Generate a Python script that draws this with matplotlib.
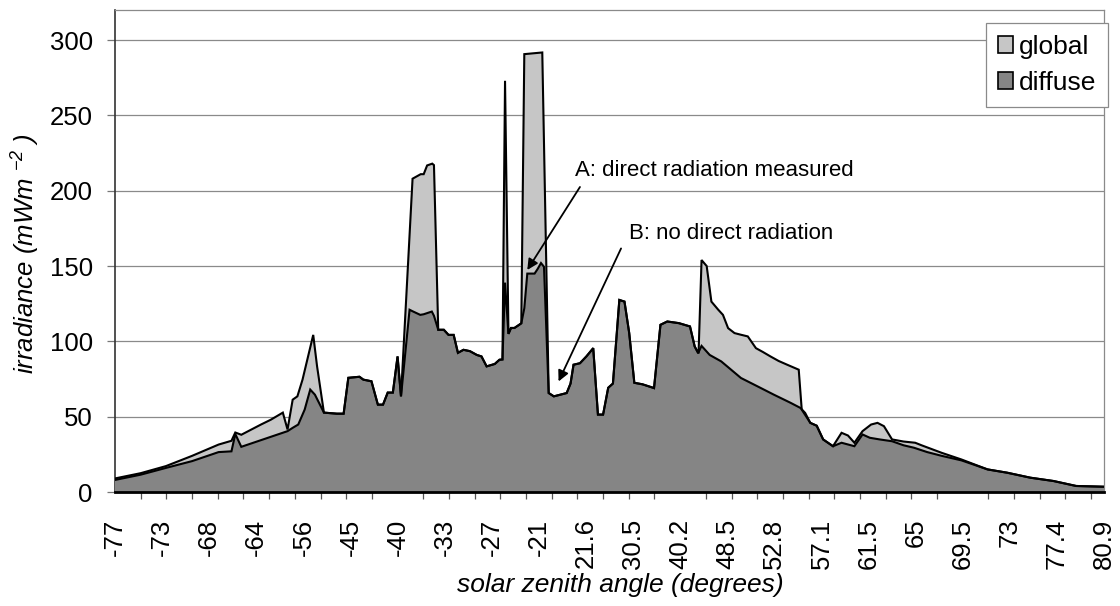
import matplotlib
matplotlib.use("Agg")
import matplotlib.pyplot as plt
from matplotlib.patches import Patch
from matplotlib.ticker import FixedLocator, MultipleLocator

plt.rcParams['font.family'] = ['Liberation Sans', 'DejaVu Sans']
plt.rcParams['mathtext.fontset'] = 'custom'
plt.rcParams['mathtext.rm'] = 'Liberation Sans:italic'
plt.rcParams['mathtext.it'] = 'Liberation Sans:italic'

# ---- data (category index positions along the measurement sequence, irradiance values) ----
tick_labels = ['-77', '-73', '-68', '-64', '-56', '-45', '-40', '-33', '-27', '-21',
               '21.6', '30.5', '40.2', '48.5', '52.8', '57.1', '61.5', '65', '69.5',
               '73', '77.4', '80.9']
label_step = 11
minor_step = 6

global_idx = [0, 6, 11.9, 18.0, 24.2, 27.2, 28.1, 29.5, 34.1, 36.4, 39.2, 40.3, 41.5, 42.6,
              43.8, 46.3, 47.2, 48.8, 51.8, 53.4, 54.5, 57.1, 58.0, 59.9, 61.4, 62.6, 63.7,
              64.9, 66.0, 66.8, 69.5, 71.4, 72.1, 72.9, 74.1, 74.5, 75.5, 76.8, 77.9, 79.1,
              80.1, 81.4, 82.9, 84.5, 85.6, 86.8, 88.7, 89.8, 90.5, 91.1, 91.9, 92.5, 93.3,
              94.4, 94.9, 95.6, 99.8, 101.3, 102.5, 105.5, 106.4, 107.1, 108.6, 110.1,
              111.7, 112.8, 114.0, 115.2, 116.3, 117.8, 119.0, 120.1, 121.3, 123.2, 125.9,
              127.4, 129.0, 131.7, 134.3, 135.4, 136.3, 137.0, 138.2, 139.3, 140.9, 142.0,
              143.2, 144.7, 146.2, 147.8, 149.7, 151.3, 153.1, 155.0, 157.0, 159.7, 160.4,
              162.4, 163.9, 165.4, 167.7, 169.7, 171.2, 172.7, 174.6, 176.6, 178.1, 179.6,
              181.5, 184.2, 186.9, 188.4, 193.1, 197.7, 203.8, 208.4, 213.8, 219.2, 224.5,
              231.0]
global_val = [9, 12.5, 17.2, 24.0, 31.5, 34.0, 39.5, 38.0, 44.8, 48.0, 52.7, 41.5, 61.3, 63.5,
              74.6, 104.3, 83.4, 52.7, 52.0, 52.0, 75.8, 76.5, 74.6, 73.5, 58.0, 58.0, 66.0,
              66.0, 90.0, 63.5, 208.0, 211.0, 211.0, 216.8, 218.0, 217.0, 107.7, 107.7, 104.3,
              104.3, 92.4, 94.4, 93.5, 91.0, 90.0, 83.4, 85.0, 87.8, 88.0, 273.0, 105.0, 108.9,
              108.9, 111.0, 112.0, 290.7, 291.8, 65.7, 63.5, 65.7, 72.0, 84.5, 85.5, 90.0,
              95.5, 51.4, 51.4, 69.2, 72.0, 127.5, 126.4, 105.6, 72.5, 71.5, 69.0,
              111.0, 113.2, 112.1, 109.9, 96.6, 92.0, 154.0, 150.0, 126.4, 121.0, 117.6,
              108.8, 105.5, 104.4, 103.3, 95.5, 93.0, 90.0, 87.0, 84.5, 81.2, 54.7,
              45.9, 44.0, 34.9, 30.4, 39.3, 37.5, 32.7, 40.4, 44.8, 45.9, 43.7,
              34.9, 33.5, 32.7, 31.0, 26.0, 21.6, 15.0, 12.8, 9.5, 7.3, 4.0,
              3.5]

diffuse_idx = [0, 6, 11.9, 18.0, 24.2, 27.2, 28.1, 29.5, 40.3, 41.5, 42.8, 44.3, 45.6, 46.7,
               48.8, 51.8, 53.4, 54.5, 57.1, 58.0, 59.9, 61.4, 62.6, 63.7, 64.9, 66.0, 66.8,
               68.8, 69.5, 71.3, 72.1, 74.0, 74.5, 75.5, 76.8, 77.9, 79.1, 80.1, 81.4, 82.9,
               84.5, 85.6, 86.8, 88.7, 89.8, 90.5, 91.1, 91.9, 92.5, 93.3, 94.4, 94.9, 95.6,
               96.3, 98.0, 98.7, 99.5, 100.2, 101.3, 102.5, 105.5, 106.4, 107.1, 108.6,
               110.1, 111.7, 112.8, 114.0, 115.2, 116.3, 117.8, 119.0, 120.1, 121.3, 123.2,
               125.9, 127.4, 129.0, 131.7, 134.3, 135.4, 136.2, 137.0, 138.9, 141.6, 143.9,
               146.2, 150.1, 153.9, 157.8, 160.1, 161.2, 162.4, 163.9, 165.4, 167.7, 169.7,
               172.7, 174.6, 176.3, 178.6, 181.5, 184.2, 186.6, 189.7, 193.1, 197.7, 203.8,
               208.4, 213.8, 219.2, 224.5, 231.0]
diffuse_val = [8, 11.5, 16.0, 20.5, 26.5, 27.0, 38.5, 30.0, 40.4, 42.6, 44.8, 54.7, 68.0, 64.6,
               52.7, 52.0, 52.0, 75.8, 76.5, 74.6, 73.5, 58.0, 58.0, 66.0, 66.0, 90.0, 63.5,
               121.0, 120.0, 117.6, 118.0, 119.8, 117.0, 107.7, 107.7, 104.3, 104.3, 92.4,
               94.4, 93.5, 91.0, 90.0, 83.4, 85.0, 87.8, 88.0, 139.0, 105.0, 108.9, 108.9,
               111.0, 112.0, 122.0, 145.0, 145.0, 148.0, 152.0, 149.5, 65.7, 63.5, 65.7,
               72.0, 84.5, 85.5, 90.0, 95.5, 51.4, 51.4, 69.2, 72.0, 127.5, 126.4, 105.6,
               72.5, 71.5, 69.0, 111.0, 113.2, 112.1, 109.9, 96.6, 92.2, 97.0, 91.0, 86.7,
               81.2, 75.7, 70.1, 64.6, 59.2, 55.8, 52.5, 45.9, 44.0, 34.9, 30.4, 32.7,
               30.4, 38.2, 36.0, 34.9, 33.7, 31.0, 29.4, 26.5, 24.0, 21.0, 15.0,
               12.8, 9.5, 7.3, 4.0, 3.5]

series_names = ['global', 'diffuse']
y_ticks = [0, 50, 100, 150, 200, 250, 300]

# ---- styling ----
c_global = '#c6c6c6'
c_diffuse = '#858585'
FS = 18.5

W, H = 1120, 606
fig = plt.figure(figsize=(W / 100, H / 100), dpi=100)
ax_l, ax_r, ax_t, ax_b = 115, 1104, 10, 492
ax = fig.add_axes([ax_l / W, 1 - ax_b / H, (ax_r - ax_l) / W, (ax_b - ax_t) / H])

ax.fill_between(global_idx, 0, global_val, facecolor=c_global, edgecolor='none', zorder=2)
ax.fill_between(diffuse_idx, 0, diffuse_val, facecolor=c_diffuse, edgecolor='none', zorder=3)
ax.plot(global_idx, global_val, color='black', lw=1.5, zorder=4, solid_joinstyle='miter')
ax.plot(diffuse_idx, diffuse_val, color='black', lw=1.5, zorder=5, solid_joinstyle='miter')

n_last = label_step * (len(tick_labels) - 1)
ax.set_xlim(0, n_last)
ax.set_ylim(0, 320)

ax.xaxis.set_major_locator(FixedLocator([i * label_step for i in range(len(tick_labels))]))
ax.set_xticklabels(tick_labels, rotation=90, fontsize=FS)
ax.xaxis.set_minor_locator(MultipleLocator(minor_step))
ax.tick_params(axis='x', which='major', length=0, pad=19)
ax.tick_params(axis='x', which='minor', length=5, width=0.9, color='#555555', direction='out')

ax.set_yticks(y_ticks)
ax.set_yticklabels([str(v) for v in y_ticks], fontsize=FS)
ax.tick_params(axis='y', which='major', length=6, width=0.9, color='#777777', pad=10)

ax.grid(axis='y', color='#8a8a8a', lw=0.9)
ax.set_axisbelow(True)

for s in ['top', 'right']:
    ax.spines[s].set_color('#8a8a8a')
    ax.spines[s].set_linewidth(0.9)
ax.spines['left'].set_color('#333333')
ax.spines['left'].set_linewidth(1.2)
ax.spines['bottom'].set_color('black')
ax.spines['bottom'].set_linewidth(2.0)
ax.spines['bottom'].set_zorder(6)

ax.set_xlabel('solar zenith angle (degrees)', fontsize=FS + 0.5, fontstyle='italic')
ax.xaxis.set_label_coords((450 + 790) / 2 / W * W / (ax_r - ax_l) - ax_l / (ax_r - ax_l), -0.168)
ax.set_ylabel(r'irradiance (mWm $^{-2}$ )', fontsize=FS, fontstyle='italic')
ax.yaxis.set_label_coords(-(ax_l - 42) / (ax_r - ax_l), 0.495)

handles = [Patch(facecolor=c_global, edgecolor='black', lw=1.2),
           Patch(facecolor=c_diffuse, edgecolor='black', lw=1.2)]
leg = ax.legend(handles, series_names, loc='upper right',
                bbox_to_anchor=(1108 / W, 1 - 23 / H), bbox_transform=fig.transFigure,
                borderaxespad=0, fontsize=FS + 0.5, fancybox=False, framealpha=1,
                edgecolor='#8a8a8a', handlelength=0.6, handleheight=0.6,
                handletextpad=0.2, labelspacing=0.45, borderpad=0.45)
leg.get_frame().set_linewidth(0.9)
leg.set_zorder(10)

ann_fs = 16
ax.annotate('', xy=(96.3, 147.4), xytext=(108.6, 202.5),
            arrowprops=dict(arrowstyle='-|>', color='black', lw=1.3, mutation_scale=16,
                            shrinkA=0, shrinkB=0), zorder=8)
ax.text(107.5, 213.5, 'A: direct radiation measured', fontsize=ann_fs, ha='left', va='center',
        zorder=8)
ax.annotate('', xy=(103.6, 73.4), xytext=(118.2, 161.7),
            arrowprops=dict(arrowstyle='-|>', color='black', lw=1.3, mutation_scale=16,
                            shrinkA=0, shrinkB=0), zorder=8)
ax.text(120.1, 171.8, 'B: no direct radiation', fontsize=ann_fs, ha='left', va='center',
        zorder=8)

fig.savefig('out.png', dpi=100)
